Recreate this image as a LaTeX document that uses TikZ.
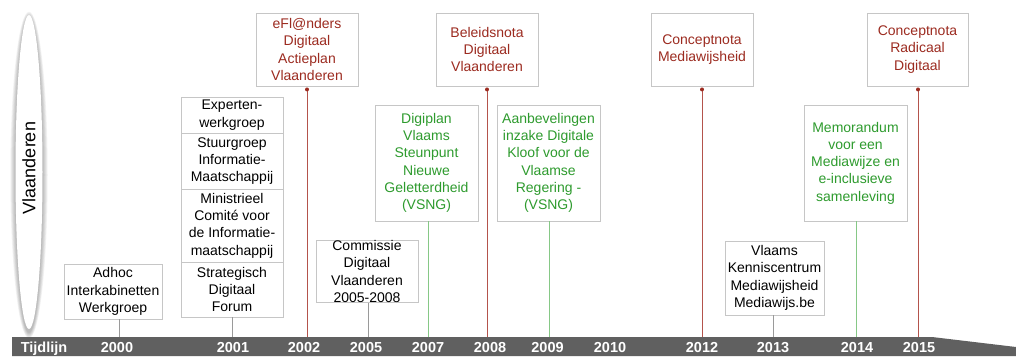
\documentclass[tikz,border=0pt]{standalone}
\usepackage{fontspec}
\setmainfont{Liberation Sans}
\usetikzlibrary{shapes.geometric}
\definecolor{redtxt}{HTML}{9C2B20}
\definecolor{redln}{HTML}{B4544C}
\definecolor{grntxt}{HTML}{2E9B2E}
\definecolor{grnln}{HTML}{86C886}
\definecolor{boxln}{HTML}{C6C6C6}
\definecolor{grayln}{HTML}{9A9A9A}
\definecolor{barc}{HTML}{606060}
\begin{document}
\begin{tikzpicture}[x=1pt,y=-1pt,
  ev/.style={draw=boxln, line width=0.9pt, fill=white, align=center, inner sep=0pt,
    font=\fontsize{14}{17.3}\selectfont},
  evred/.style={ev, text=redtxt, minimum width=102pt, minimum height=73pt},
  evgrn/.style={ev, text=grntxt, minimum width=103pt, minimum height=116pt},
  yr/.style={text=white, inner sep=0pt, anchor=base, font=\bfseries\fontsize{14.5}{17}\selectfont},
  rline/.style={draw=redln, line width=0.8pt},
  gline/.style={draw=grnln, line width=0.8pt},
  kline/.style={draw=grayln, line width=0.8pt},
  dotc/.style={fill=redtxt}
]
\useasboundingbox (0,0) rectangle (1016,356);

% soft shadow of the left ellipse
\foreach \i in {1,...,7}{
  \fill[black, opacity=0.045] (29,175) ellipse ({13.5+\i*0.75} and {157+\i*0.9});
}
% left ellipse
\node[ellipse, fill=white, minimum width=27pt, minimum height=314pt, inner sep=0pt] (vl) at (29,172) {};
\node[rotate=90, inner sep=0pt, font=\fontsize{18}{20}\selectfont] (vlt) at (29,168) {Vlaanderen};

% timeline bar
\fill[barc] (12,337) -- (932,337) -- (1016,347) -- (1016,356) -- (12,356) -- cycle;

% axis points
\coordinate (t2000) at (119,337);
\coordinate (t2001) at (232,337);
\coordinate (t2002) at (307,337);
\coordinate (t2005) at (368,337);
\coordinate (t2007) at (428,337);
\coordinate (t2008) at (487,337);
\coordinate (t2009) at (549,337);
\coordinate (t2012) at (702,337);
\coordinate (t2013) at (773,337);
\coordinate (t2014) at (856,337);
\coordinate (t2015) at (918,337);

% year labels
\node[yr] (ltijd) at (44,352.5) {Tijdlijn};
\node[yr] (l2000) at (117,352.5) {2000};
\node[yr] (l2001) at (233,352.5) {2001};
\node[yr] (l2002) at (304,352.5) {2002};
\node[yr] (l2005) at (366,352.5) {2005};
\node[yr] (l2007) at (428,352.5) {2007};
\node[yr] (l2008) at (490,352.5) {2008};
\node[yr] (l2009) at (547.5,352.5) {2009};
\node[yr] (l2010) at (610,352.5) {2010};
\node[yr] (l2012) at (702,352.5) {2012};
\node[yr] (l2013) at (773,352.5) {2013};
\node[yr] (l2014) at (857,352.5) {2014};
\node[yr] (l2015) at (919,352.5) {2015};

% black boxes
\node[ev, minimum width=98pt, minimum height=55pt] (b2000) at (113,291.5) {Adhoc\\Interkabinetten\\Werkgroep};
\node[ev, minimum width=102pt, minimum height=36pt] (s1) at (232,115) {Experten-\\werkgroep};
\node[ev, minimum width=102pt, minimum height=56pt] (s2) at (232,161) {Stuurgroep\\Informatie-\\Maatschappij};
\node[ev, minimum width=102pt, minimum height=73pt] (s3) at (232,225.5) {Ministrieel\\Comité voor\\de Informatie-\\maatschappij};
\node[ev, minimum width=102pt, minimum height=55pt] (s4) at (232,289.5) {Strategisch\\Digitaal\\Forum};
\node[ev, minimum width=102pt, minimum height=59pt] (b2005) at (367,271.5) {Commissie\\Digitaal\\Vlaanderen\\2005-2008};
\node[ev, minimum width=99pt, minimum height=74pt] (b2013) at (774.5,278) {Vlaams\\Kenniscentrum\\Mediawijsheid\\Mediawijs.be};

% red boxes
\node[evred] (b2002) at (307,49.5) {eFl@nders\\Digitaal\\Actieplan\\Vlaanderen};
\node[evred] (b2008) at (487,49.5) {Beleidsnota\\Digitaal\\Vlaanderen};
\node[evred] (b2012) at (702,49.5) {Conceptnota\\Mediawijsheid};
\node[evred, minimum width=101pt] (b2015) at (917.5,49.5) {Conceptnota\\Radicaal\\Digitaal};

% green boxes
\node[evgrn] (b2007) at (426.5,163) {Digiplan\\Vlaams\\Steunpunt\\Nieuwe\\Geletterdheid\\(VSNG)};
\node[evgrn] (b2009) at (548.5,163) {Aanbevelingen\\inzake Digitale\\Kloof voor de\\Vlaamse\\Regering -\\(VSNG)};
\node[evgrn] (b2014) at (855.5,163) {Memorandum\\voor een\\Mediawijze en\\e-inclusieve\\samenleving};

% gray connectors
\draw[kline] (b2000.south -| t2000) -- (t2000);
\draw[kline] (s4.south -| t2001) -- (t2001);
\draw[kline] (b2005.south -| t2005) -- (t2005);
\draw[kline] (b2013.south -| t2013) -- (t2013);

% green connectors
\draw[gline] (b2007.south -| t2007) -- (t2007);
\draw[gline] (b2009.south -| t2009) -- (t2009);
\draw[gline] (b2014.south -| t2014) -- (t2014);

% red connectors with dots
\foreach \b/\t in {b2002/t2002, b2008/t2008, b2012/t2012, b2015/t2015}{
  \coordinate (d\b) at ([yshift=-3pt]\b.south -| \t);
  \draw[rline] (d\b) -- (\t);
  \fill[dotc] (d\b) circle (2pt);
}
\end{tikzpicture}
\end{document}
